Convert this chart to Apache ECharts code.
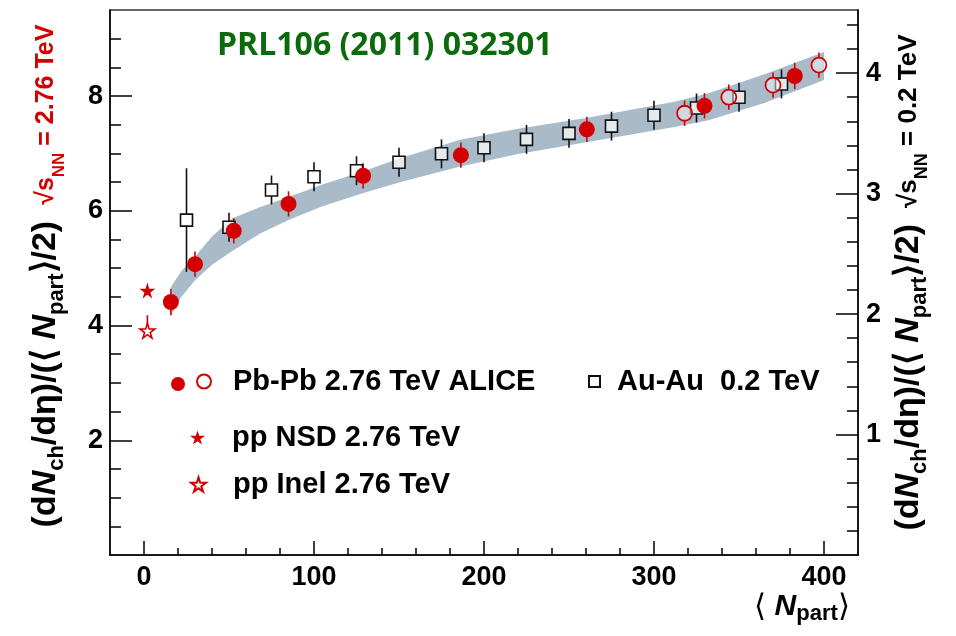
<!DOCTYPE html>
<html>
<head>
<meta charset="utf-8">
<script src="https://cdn.jsdelivr.net/npm/echarts@6/dist/echarts.min.js"></script>
<style>
  html, body { margin: 0; padding: 0; background: #fff; }
  #main { width: 956px; height: 636px; }
</style>
</head>
<body>
<div id="main"></div>
<script>
// Pb-Pb 2.76 TeV (ALICE), centrality bins
var pbN = [15.8, 30.0, 52.8, 85.0, 128.9, 186.4, 260.5, 329.7, 382.8];
var pbVal = [4.41, 5.07, 5.65, 6.12, 6.61, 6.97, 7.42, 7.83, 8.35];
var pbErr = [0.23, 0.22, 0.22, 0.22, 0.22, 0.22, 0.22, 0.22, 0.23];
// Pb-Pb finer central bins (open circles)
var pbFineN = [318, 344, 370, 397];
var pbFineVal = [7.70, 7.98, 8.19, 8.54];
var pbFineErr = [0.22, 0.22, 0.22, 0.22];
// Au-Au 0.2 TeV (right-hand scale)
var auN = [25, 50, 75, 100, 125, 150, 175, 200, 225, 250, 275, 300, 325, 350, 375];
var auVal = [2.78, 2.72, 3.03, 3.14, 3.19, 3.26, 3.33, 3.38, 3.45, 3.50, 3.56, 3.65, 3.71, 3.80, 3.91];
var auErr = [0.43, 0.12, 0.12, 0.12, 0.12, 0.12, 0.12, 0.12, 0.12, 0.12, 0.12, 0.12, 0.12, 0.12, 0.12];
// pp 2.76 TeV
var ppNsd = [[2, 4.61]];
var ppInel = [[2, 3.91]];
var ppInelErrUp = 0.27;
// grey band
var bandN = [16, 22, 30, 40, 52, 68, 85, 105, 129, 151, 186, 220, 261, 312, 332, 365, 400];
var bandLo = [4.18, 4.50, 4.79, 5.06, 5.30, 5.60, 5.84, 6.08, 6.31, 6.50, 6.77, 6.99, 7.20, 7.46, 7.58, 7.88, 8.28];
var bandHi = [4.68, 4.95, 5.20, 5.55, 5.87, 6.06, 6.24, 6.46, 6.69, 6.92, 7.24, 7.43, 7.62, 7.90, 8.05, 8.38, 8.77];
// axes
var auScale = 2.1;
var xTicks = [0, 100, 200, 300, 400];
var leftTicks = [2, 4, 6, 8];
var rightTicks = [1, 2, 3, 4];

var FONT = 'Liberation Sans';
var RED = '#d20000';
var STAR = 'path://M50,0 L61,35 L98,35 L68,57 L79,91 L50,70 L21,91 L32,57 L2,35 L39,35 Z';

var xMinor = [], leftMinor = [], rightMinor = [];
for (var v = 20; v < 420; v += 20) if (v % 100 !== 0) xMinor.push(v);
for (var v = 0.5; v < 9.5; v += 0.5) if (v % 2 !== 0) leftMinor.push(v);
for (var k = 1; k < 23; k++) if (k % 5 !== 0) rightMinor.push(+(k * 0.2).toFixed(1));

function rows(xs, ys, es) {
  return xs.map(function (x, i) { return [x, ys[i], ys[i] - es[i], ys[i] + es[i]]; });
}

function errBars(color, gap) {
  return function (params, api) {
    var p = api.coord([api.value(0), api.value(1)]);
    var lo = api.coord([api.value(0), api.value(2)]);
    var hi = api.coord([api.value(0), api.value(3)]);
    var st = { stroke: color, lineWidth: 1.6 };
    var kids = [];
    if (hi[1] < p[1] - gap) kids.push({ type: 'line', shape: { x1: p[0], y1: hi[1], x2: p[0], y2: p[1] - gap }, style: st });
    if (lo[1] > p[1] + gap) kids.push({ type: 'line', shape: { x1: p[0], y1: p[1] + gap, x2: p[0], y2: lo[1] }, style: st });
    return { type: 'group', children: kids };
  };
}

var mainRich = {
  pad: { fontSize: 20, width: 13 },
  m: { fontFamily: FONT, fontSize: 34, fontWeight: 'bold', color: '#000', lineHeight: 44 },
  i: { fontFamily: FONT, fontSize: 34, fontWeight: 'bold', fontStyle: 'italic', color: '#000', lineHeight: 44 },
  s: { fontFamily: FONT, fontSize: 22, fontWeight: 'bold', color: '#000', verticalAlign: 'bottom', lineHeight: 44 },
  gap: { fontSize: 20, width: 16 },
  r: { fontFamily: FONT, fontSize: 25, fontWeight: 'bold', color: RED, lineHeight: 44 },
  rs: { fontFamily: FONT, fontSize: 17, fontWeight: 'bold', color: RED, verticalAlign: 'bottom', lineHeight: 40 },
  k: { fontFamily: FONT, fontSize: 26, fontWeight: 'bold', color: '#000', lineHeight: 44 },
  ks: { fontFamily: FONT, fontSize: 18, fontWeight: 'bold', color: '#000', verticalAlign: 'bottom', lineHeight: 40 }
};
var yTitle = '{m|(d}{i|N}{s|ch}{m|/dη)/(⟨ }{i|N}{s|part}{m|⟩/2)}{gap| }';
var leftName = '{pad| }' + yTitle + '{r|√s}{rs|NN}{r| = 2.76 TeV}';
var rightName = yTitle + '{k|√s}{ks|NN}{k| = 0.2 TeV}';

var tickLine = { color: '#000', width: 1.5 };
var labelStyle = { fontFamily: FONT, fontSize: 27, fontWeight: 'bold', color: '#000' };
var legendText = { fontFamily: FONT, fontSize: 29, fontWeight: 'bold', color: '#000' };

function minorAxis(pos, max, vals, len) {
  return {
    type: 'value', position: pos, min: pos === 'bottom' ? -20 : 0, max: max,
    axisLine: { show: false, onZero: false },
    axisTick: { show: true, inside: true, length: len, customValues: vals, lineStyle: tickLine },
    axisLabel: { show: false }, splitLine: { show: false }
  };
}

var chart = echarts.init(document.getElementById('main'));
chart.setOption({
  backgroundColor: '#fff',
  animation: false,
  title: {
    text: 'PRL106 (2011) 032301', left: 217, top: 30, padding: 0,
    textStyle: { fontFamily: 'Open Sans', fontSize: 32, fontWeight: 'bold', color: '#0b6a0b' }
  },
  grid: { left: 110, right: 98, top: 10, bottom: 81, show: true, borderColor: '#333', borderWidth: 1.5 },
  xAxis: [{
    type: 'value', position: 'bottom', min: -20, max: 420,
    axisLine: { show: true, onZero: false, lineStyle: tickLine },
    axisTick: { show: true, inside: true, length: 14, customValues: xTicks, lineStyle: tickLine },
    axisLabel: { customValues: xTicks, margin: 9, ...labelStyle },
    splitLine: { show: false },
    name: '{m|⟨ }{i|N}{s|part}{m|⟩}', nameLocation: 'end', nameGap: -104,
    nameTextStyle: { verticalAlign: 'top', padding: [34, 0, 0, 0], rich: {
      m: { fontFamily: FONT, fontSize: 31, color: '#000', lineHeight: 36 },
      i: { fontFamily: FONT, fontSize: 30, fontWeight: 'bold', fontStyle: 'italic', color: '#000', lineHeight: 36 },
      s: { fontFamily: FONT, fontSize: 22, fontWeight: 'bold', color: '#000', verticalAlign: 'bottom', lineHeight: 36 }
    } }
  }, minorAxis('bottom', 420, xMinor, 7)],
  yAxis: [{
    type: 'value', position: 'left', min: 0, max: 9.5,
    axisLine: { show: true, onZero: false, lineStyle: tickLine },
    axisTick: { show: true, inside: true, length: 22, customValues: leftTicks, lineStyle: tickLine },
    axisLabel: { customValues: leftTicks, margin: 7, ...labelStyle },
    splitLine: { show: false },
    name: leftName, nameLocation: 'middle', nameRotate: 90, nameGap: 42,
    nameTextStyle: { rich: mainRich }
  }, minorAxis('left', 9.5, leftMinor, 11), {
    type: 'value', position: 'right', min: 0, max: 9.5 / auScale,
    axisLine: { show: true, onZero: false, lineStyle: tickLine },
    axisTick: { show: true, inside: true, length: 22, customValues: rightTicks, lineStyle: tickLine },
    axisLabel: { customValues: rightTicks, margin: 8, ...labelStyle },
    splitLine: { show: false },
    name: rightName, nameLocation: 'middle', nameRotate: 90, nameGap: 27,
    nameTextStyle: { rich: mainRich }
  }, minorAxis('right', 9.5 / auScale, rightMinor, 11)],
  legend: [
    { data: ['Pb-Pb 2.76 TeV ALICE (0-80%)'], left: 171, top: 377, padding: 0, itemWidth: 14, itemHeight: 14,
      selectedMode: false, textStyle: legendText, formatter: function () { return ''; } },
    { data: ['Pb-Pb 2.76 TeV ALICE'], left: 196, top: 367, padding: 0, itemWidth: 14, itemHeight: 14,
      selectedMode: false, textStyle: Object.assign({ padding: [0, 0, 0, 17] }, legendText) },
    { data: ['Au-Au  0.2 TeV'], left: 588, top: 367, padding: 0, itemWidth: 11, itemHeight: 11,
      selectedMode: false, textStyle: Object.assign({ padding: [0, 0, 0, 12] }, legendText) },
    { data: ['pp NSD 2.76 TeV'], left: 190, top: 423, padding: 0, itemWidth: 15, itemHeight: 15,
      selectedMode: false, textStyle: Object.assign({ padding: [0, 0, 0, 22] }, legendText) },
    { data: ['pp Inel 2.76 TeV'], left: 190, top: 470, padding: 0, itemWidth: 15, itemHeight: 15,
      selectedMode: false, textStyle: Object.assign({ padding: [0, 0, 0, 22] }, legendText) }
  ],
  series: [
    {
      type: 'custom', name: 'band', z: 1, silent: true,
      data: bandN.map(function (n, i) { return [n, bandLo[i], bandHi[i]]; }),
      renderItem: function (params, api) {
        if (params.dataIndex !== 0) return null;
        var pts = [];
        bandN.forEach(function (n, i) { pts.push(api.coord([n, bandHi[i]])); });
        for (var i = bandN.length - 1; i >= 0; i--) pts.push(api.coord([bandN[i], bandLo[i]]));
        return { type: 'polygon', shape: { points: pts, smooth: 0 }, style: { fill: '#a9bac8' } };
      }
    },
    { type: 'custom', name: 'auErr', z: 2, yAxisIndex: 2, data: rows(auN, auVal, auErr), renderItem: errBars('#111', 6) },
    { type: 'custom', name: 'pbErr', z: 2, data: rows(pbN, pbVal, pbErr), renderItem: errBars(RED, 5) },
    { type: 'custom', name: 'pbFineErr', z: 2, data: rows(pbFineN, pbFineVal, pbFineErr), renderItem: errBars(RED, 7) },
    { type: 'custom', name: 'ppErr', z: 2, data: [[ppInel[0][0], ppInel[0][1], ppInel[0][1], ppInel[0][1] + ppInelErrUp]], renderItem: errBars(RED, 6) },
    {
      type: 'scatter', name: 'Au-Au  0.2 TeV', z: 3, yAxisIndex: 2,
      data: auN.map(function (n, i) { return [n, auVal[i]]; }),
      symbol: 'rect', symbolSize: 12,
      itemStyle: { color: 'rgba(255,255,255,0.7)', borderColor: '#111', borderWidth: 1.6, opacity: 1 }
    },
    {
      type: 'scatter', name: 'Pb-Pb 2.76 TeV ALICE', z: 3,
      data: pbFineN.map(function (n, i) { return [n, pbFineVal[i]]; }),
      symbol: 'circle', symbolSize: 15,
      itemStyle: { color: 'rgba(255,255,255,0.45)', borderColor: RED, borderWidth: 1.8, opacity: 1 }
    },
    {
      type: 'scatter', name: 'Pb-Pb 2.76 TeV ALICE (0-80%)', z: 4,
      data: pbN.map(function (n, i) { return [n, pbVal[i]]; }),
      symbol: 'circle', symbolSize: 16,
      itemStyle: { color: RED, opacity: 1 }
    },
    {
      type: 'scatter', name: 'pp NSD 2.76 TeV', z: 3, data: ppNsd,
      symbol: STAR, symbolSize: 16, itemStyle: { color: RED, opacity: 1 }
    },
    {
      type: 'scatter', name: 'pp Inel 2.76 TeV', z: 3, data: ppInel,
      symbol: STAR, symbolSize: 15,
      itemStyle: { color: '#fff', borderColor: RED, borderWidth: 1.6, opacity: 1 }
    }
  ]
});
</script>
</body>
</html>
